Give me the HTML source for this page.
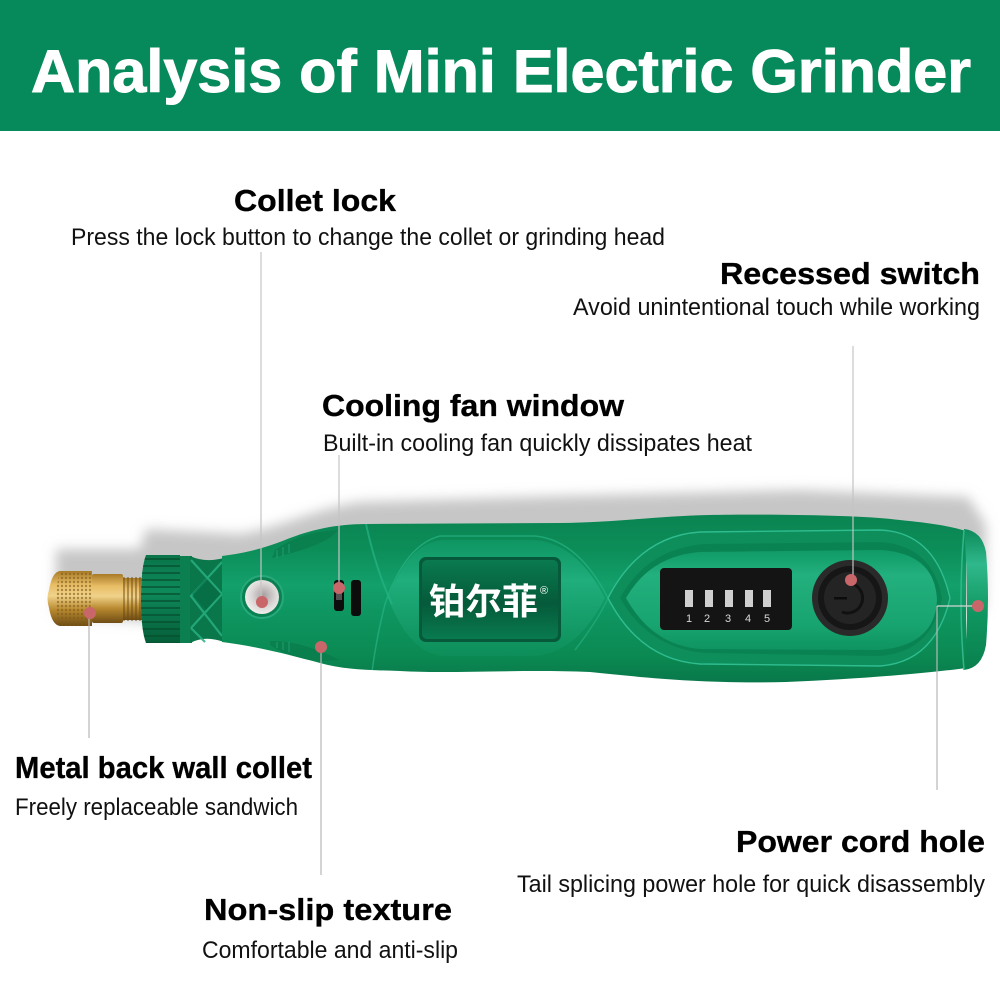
<!DOCTYPE html>
<html><head><meta charset="utf-8"><style>
html,body{margin:0;padding:0;background:#fff;width:1000px;height:1000px;overflow:hidden}
svg{display:block}
text{font-family:"Liberation Sans","Noto Sans CJK SC",sans-serif}
.h{font-weight:bold;font-size:31px;fill:#000;stroke:#000;stroke-width:.35px}
.s{font-size:24px;fill:#111}
</style></head><body>
<svg width="1000" height="1000" viewBox="0 0 1000 1000" xmlns="http://www.w3.org/2000/svg">
<defs>
<filter id="blur" x="-10%" y="-30%" width="120%" height="160%"><feGaussianBlur stdDeviation="6"/></filter>
<linearGradient id="body" x1="0" y1="0" x2="0" y2="1">
<stop offset="0" stop-color="#0a8452"/><stop offset=".2" stop-color="#0c8d58"/><stop offset=".42" stop-color="#13a06b"/><stop offset=".6" stop-color="#0e9560"/><stop offset=".85" stop-color="#0b8952"/><stop offset="1" stop-color="#08784a"/>
</linearGradient>
<linearGradient id="panel" x1="0" y1="0" x2="0" y2="1">
<stop offset="0" stop-color="#0f9a66"/><stop offset=".25" stop-color="#22b07e"/><stop offset=".75" stop-color="#18a470"/><stop offset="1" stop-color="#0e9460"/>
</linearGradient>
<linearGradient id="logo" x1="0" y1="0" x2="0" y2="1">
<stop offset="0" stop-color="#0a7a50"/><stop offset=".55" stop-color="#055a3a"/><stop offset="1" stop-color="#097a50"/>
</linearGradient>
<linearGradient id="lens" x1="0" y1="0" x2="0" y2="1">
<stop offset="0" stop-color="#0e9562"/><stop offset=".35" stop-color="#1fae7c"/><stop offset="1" stop-color="#0d8e59"/>
</linearGradient>
<linearGradient id="brass" x1="0" y1="0" x2="0" y2="1">
<stop offset="0" stop-color="#a87a26"/><stop offset=".25" stop-color="#e8bd66"/><stop offset=".45" stop-color="#f0d28a"/><stop offset=".7" stop-color="#b98a30"/><stop offset="1" stop-color="#6e4c14"/>
</linearGradient>
<linearGradient id="ring" x1="0" y1="0" x2="0" y2="1">
<stop offset="0" stop-color="#0a7449"/><stop offset=".4" stop-color="#0e8a5a"/><stop offset="1" stop-color="#065e39"/>
</linearGradient>
<linearGradient id="cap" x1="0" y1="0" x2="0" y2="1">
<stop offset="0" stop-color="#0d8a5a"/><stop offset=".25" stop-color="#2fb88b"/><stop offset=".6" stop-color="#0f9660"/><stop offset="1" stop-color="#09804d"/>
</linearGradient>
<radialGradient id="metal" cx=".55" cy=".45" r=".6"><stop offset="0" stop-color="#a8a0a0"/><stop offset=".6" stop-color="#dcd8d8"/><stop offset="1" stop-color="#f2f2f2"/></radialGradient>
<pattern id="knurl" width="4" height="4" patternUnits="userSpaceOnUse"><circle cx="2" cy="2" r="1.2" fill="#7d5a18" opacity=".6"/></pattern>
<pattern id="ringp" width="10" height="7" patternUnits="userSpaceOnUse"><rect width="10" height="2" y="5" fill="#05502f" opacity=".7"/></pattern>
<clipPath id="bodyclip"><path d="M222 556 C245 553 262 549 285 540 C310 530 335 524 367 524 L560 523 C620 522 660 516 709 515 C770 514 860 515 900 520 C930 523 950 526 966 531 L966 668 C930 673 860 679 786 682 C700 684 640 677 590 672 C520 669 450 674 400 671 C370 670 345 670 320 663 C290 655 255 646 222 642 Z"/></clipPath>
</defs>

<rect x="0" y="0" width="1000" height="131" fill="#078a5b"/>
<text x="31" y="92" font-size="60" font-weight="bold" fill="#fff" stroke="#fff" stroke-width="1" textLength="940" lengthAdjust="spacingAndGlyphs">Analysis of Mini Electric Grinder</text>

<!-- shadow -->
<path d="M56 615 L56 549 L140 549 L146 529 L240 534 C280 528 310 510 360 502 L560 496 L800 490 L968 497 L986 525 L984 610 L400 640 Z" fill="#c6c6c6" filter="url(#blur)"/>

<!-- collet -->
<path d="M122 578 L142 578 L142 620 L122 620 Z" fill="url(#brass)"/>
<g stroke="#6d4c14" stroke-width="1.2" opacity=".8"><path d="M124 577V621M128 577V621M132 577V621M136 577V621M140 577V621"/></g>
<rect x="92" y="574" width="31" height="49" rx="2" fill="url(#brass)"/>
<path d="M92 571 L60 571 Q52 572 49 590 Q46 598 49 608 Q52 625 60 626 L92 626 Z" fill="url(#brass)"/>
<path d="M92 571 L60 571 L56 590 L56 610 L60 626 L90 626 Z" fill="url(#knurl)"/>

<!-- ring -->
<path d="M146 555 L180 555 L180 643 L146 643 Q141 630 141 599 Q141 568 146 555Z" fill="url(#ring)"/>
<path d="M146 555 L180 555 L180 643 L146 643 Q141 630 141 599 Q141 568 146 555Z" fill="url(#ringp)"/>
<rect x="180" y="556" width="12" height="87" fill="#0b7f50"/>
<path d="M190 556 Q205 563 224 558 L224 642 Q205 635 190 643 Z" fill="#09774a"/>
<path d="M191 560 L222 594 L191 628 M222 562 L191 596 L222 636 M191 628 L205 642" stroke="#28ae80" stroke-width="2.2" fill="none" opacity=".85"/>
<path d="M206 578 L221 594 L206 610 L192 594Z" fill="#066a44" opacity=".6"/>

<!-- body -->
<path d="M222 556 C245 553 262 549 285 540 C310 530 335 524 367 524 L560 523 C620 522 660 516 709 515 C770 514 860 515 900 520 C930 523 950 526 966 531 L966 668 C930 673 860 679 786 682 C700 684 640 677 590 672 C520 669 450 674 400 671 C370 670 345 670 320 663 C290 655 255 646 222 642 Z" fill="url(#body)"/>
<!-- end cap -->
<path d="M964 529 Q982 531 986 552 Q990 598 986 645 Q982 668 964 670 Q970 600 964 529Z" fill="url(#cap)"/>
<path d="M964 530 Q958 600 964 670" stroke="#30b88c" stroke-width="1.5" fill="none"/>

<g clip-path="url(#bodyclip)">
<path d="M275 550 Q300 532 338 530 Q328 545 272 558Z" fill="#0a7a4c" opacity=".7"/>
<path d="M270 641 Q300 640 340 660 Q300 665 270 645Z" fill="#0a7a4c" opacity=".7"/>
<g stroke="#27ad7f" stroke-width="1" opacity=".7"><path d="M277 550V558M283 547V556M289 544V553M277 642V648M283 642V650M289 642V652"/></g>
<!-- logo lens -->
<path d="M605 598 Q575 540 530 540 L445 540 Q410 540 388 598 Q410 655 445 656 L530 656 Q575 656 605 598Z" fill="url(#lens)"/>
<path d="M611 604 Q580 540 535 536 L440 536 Q405 545 385 604 Q376 640 372 672" fill="none" stroke="#27b384" stroke-width="1.5" opacity=".7"/>
<path d="M366 524 Q376 570 392 604" fill="none" stroke="#27b384" stroke-width="2" opacity=".7"/>
<!-- switch panel outer -->
<path d="M608 598 Q640 536 700 532 L880 530 Q935 532 950 598 Q935 662 880 666 L700 664 Q640 660 608 598Z" fill="#0d8e5b"/>
<path d="M608 598 Q640 536 700 532 L880 530 Q935 532 950 598 Q935 662 880 666 L700 664 Q640 660 608 598Z" fill="none" stroke="#2fbd90" stroke-width="1.4"/>
<path d="M620 598 Q648 548 705 544 L880 542 Q932 545 942 598 Q932 652 880 656 L705 653 Q648 648 620 598Z" fill="#0a8353"/>
<path d="M626 598 Q650 556 700 552 L880 550 Q935 553 937 600 Q935 645 880 650 L700 649 Q652 645 626 598Z" fill="url(#panel)"/>
</g>
<path d="M608 598 Q598 620 575 650" stroke="#27b384" stroke-width="1.5" fill="none" opacity=".6"/>

<!-- logo -->
<rect x="419" y="557" width="142" height="85" rx="7" fill="#06593a"/>
<rect x="422" y="560" width="136" height="79" rx="5" fill="url(#logo)"/>
<text x="429" y="614" font-size="36" font-weight="bold" fill="#fff" textLength="109" lengthAdjust="spacingAndGlyphs">铂尔菲</text>
<text x="540" y="594" font-size="11" fill="#fff">®</text>

<!-- display -->
<rect x="660" y="568" width="132" height="62" rx="4" fill="#141414"/>
<g fill="#cfcfcf"><rect x="685" y="590" width="8" height="17"/><rect x="705" y="590" width="8" height="17"/><rect x="725" y="590" width="8" height="17"/><rect x="745" y="590" width="8" height="17"/><rect x="763" y="590" width="8" height="17"/></g>
<g fill="#d8d8d8" font-size="11" text-anchor="middle"><text x="689" y="622">1</text><text x="707" y="622">2</text><text x="728" y="622">3</text><text x="748" y="622">4</text><text x="767" y="622">5</text></g>

<!-- button -->
<circle cx="850" cy="598" r="38" fill="#2a2a2a"/>
<circle cx="850" cy="598" r="32" fill="#161616"/>
<circle cx="850" cy="598" r="26" fill="#242424"/>
<path d="M853 584 A14 14 0 1 1 842 612" fill="none" stroke="#111" stroke-width="3"/>
<rect x="834" y="597" width="13" height="2.5" fill="#0c0c0c"/>

<!-- lock button -->
<circle cx="262" cy="597" r="21" fill="#0b8050" stroke="#26a97c" stroke-width="2"/>
<circle cx="262" cy="597" r="17" fill="url(#metal)"/>
<!-- vents -->
<rect x="334" y="580" width="10" height="31" rx="3" fill="#0c0c0c"/>
<rect x="336" y="590" width="6" height="10" fill="#bcbcbc" opacity=".4"/>
<rect x="351" y="580" width="10" height="36" rx="3" fill="#0c0c0c"/>

<!-- connectors -->
<g fill="none" stroke-width="1.2">
<path d="M261 252 V600 M339 455 V587 M853 346 V578" stroke="#c4c4c4"/>
<path d="M89 612 V738 M321 647 V875 M937 606 V790" stroke="#b8b8b8"/>
<path d="M978 606 H937" stroke="#d5d5d5"/>
</g>
<g fill="#c8666a">
<circle cx="262" cy="602" r="6"/><circle cx="339" cy="588" r="6"/><circle cx="851" cy="580" r="6"/><circle cx="978" cy="606" r="6"/><circle cx="90" cy="613" r="6"/><circle cx="321" cy="647" r="6"/>
</g>

<!-- labels -->
<text class="h" x="234" y="211" textLength="162" lengthAdjust="spacingAndGlyphs">Collet lock</text>
<text class="s" x="71" y="245" textLength="594" lengthAdjust="spacingAndGlyphs">Press the lock button to change the collet or grinding head</text>
<text class="h" x="720" y="284" textLength="260" lengthAdjust="spacingAndGlyphs">Recessed switch</text>
<text class="s" x="573" y="315" textLength="407" lengthAdjust="spacingAndGlyphs">Avoid unintentional touch while working</text>
<text class="h" x="322" y="416" textLength="302" lengthAdjust="spacingAndGlyphs">Cooling fan window</text>
<text class="s" x="323" y="451" textLength="429" lengthAdjust="spacingAndGlyphs">Built-in cooling fan quickly dissipates heat</text>
<text class="h" x="15" y="778" textLength="297" lengthAdjust="spacingAndGlyphs">Metal back wall collet</text>
<text class="s" x="15" y="815" textLength="283" lengthAdjust="spacingAndGlyphs">Freely replaceable sandwich</text>
<text class="h" x="736" y="852" textLength="249" lengthAdjust="spacingAndGlyphs">Power cord hole</text>
<text class="s" x="517" y="892" textLength="468" lengthAdjust="spacingAndGlyphs">Tail splicing power hole for quick disassembly</text>
<text class="h" x="204" y="920" textLength="248" lengthAdjust="spacingAndGlyphs">Non-slip texture</text>
<text class="s" x="202" y="958" textLength="256" lengthAdjust="spacingAndGlyphs">Comfortable and anti-slip</text>
</svg>
</body></html>
